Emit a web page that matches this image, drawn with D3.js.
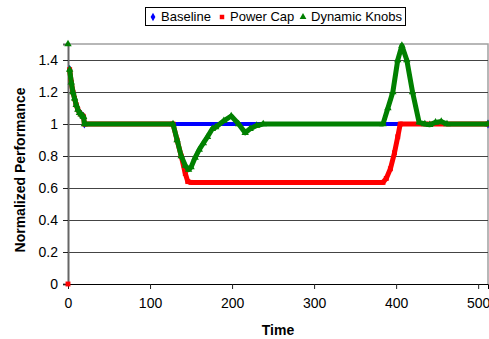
<!DOCTYPE html>
<html>
<head>
<meta charset="utf-8">
<script src="https://cdn.jsdelivr.net/npm/d3@7"></script>
<style>
body { margin: 0; background: #fff; }
text { font-family: "Liberation Sans", Arial, sans-serif; }
</style>
</head>
<body>
<div id="chart"></div>
<script>
// chart values: [time, normalized performance]
const xTicks = [0, 100, 200, 300, 400, 500];
const yTicks = [0, 0.2, 0.4, 0.6, 0.8, 1, 1.2, 1.4];
const seriesNames = ["Baseline", "Power Cap", "Dynamic Knobs"];

const startup = [[2, 1.34], [4, 1.26], [6, 1.2], [8, 1.16], [10, 1.12], [12, 1.09], [14, 1.07], [16, 1.06], [18, 1.05], [19, 1.045], [20, 1.0]];

const baselineFirst = [];
const baseline = startup.concat([[512, 1.0]]);

const powerCapFirst = [[0, 0]];
const powerCap = startup.concat([[128, 1.0], [133, 0.9], [138, 0.8], [143, 0.69], [146, 0.64], [150, 0.635],
  [384, 0.635], [388, 0.66], [393, 0.72], [398, 0.82], [402, 0.92], [405, 1.0], [512, 1.0]]);

const knobsFirst = [[0, 1.5]];
const knobs = startup.concat([[128, 1.0], [133, 0.9], [138, 0.8], [143, 0.74], [147, 0.715], [150, 0.73],
  [155, 0.79], [160, 0.84], [165, 0.88], [170, 0.92], [176, 0.97], [180, 0.98], [190, 1.02], [199, 1.05],
  [208, 1.0], [216, 0.945], [222, 0.97], [230, 0.99], [238, 1.0], [384, 1.0], [390, 1.1], [396, 1.2],
  [402, 1.4], [407, 1.49], [413, 1.4], [420, 1.2], [428, 1.01], [435, 1.0], [441, 0.995], [448, 1.01],
  [455, 1.015], [462, 1.0], [512, 1.0]]);

const width = 489, height = 339;
const margin = {top: 44, right: 1, bottom: 55, left: 68};

let svg = d3.select("#chart").append("svg")
    .attr("width", width)
    .attr("height", height);

let x = d3.scaleLinear().domain([0, 512]).range([margin.left, width - margin.right]);
let y = d3.scaleLinear().domain([0, 1.5]).range([height - margin.bottom, margin.top]);

// frame (top and right, light grey)
svg.append("path")
    .attr("d", "M" + x(0) + "," + y(1.5) + "H" + x(512) + "V" + y(0))
    .attr("fill", "none")
    .attr("stroke", "#a0a0a0")
    .attr("stroke-width", 1.5);

// gridlines
svg.append("g").selectAll("line")
    .data(yTicks.filter(function(d) { return d > 0; }))
    .enter().append("line")
    .attr("x1", x(0)).attr("x2", x(512))
    .attr("y1", function(d) { return Math.round(y(d)) + 0.5; })
    .attr("y2", function(d) { return Math.round(y(d)) + 0.5; })
    .attr("stroke", "#444");

// axes
let yAxis = svg.append("g")
    .attr("transform", "translate(" + x(0) + ",0)")
    .call(d3.axisLeft(y).tickValues(yTicks).tickSize(5).tickPadding(5).tickFormat(d3.format("")));
let xAxis = svg.append("g")
    .attr("transform", "translate(0," + y(0) + ")")
    .call(d3.axisBottom(x).tickValues(xTicks).tickSize(5).tickPadding(9).tickFormat(d3.format("d")));

[yAxis, xAxis].forEach(function(a) {
    a.select(".domain").attr("stroke", "#222");
    a.selectAll(".tick line").attr("stroke", "#222");
    a.selectAll("text").style("font-size", "14px").attr("fill", "#000");
});
yAxis.select(".domain").attr("stroke", "#666").attr("stroke-width", 2);
xAxis.select(".domain").attr("stroke", "#000");

// series
let line = d3.line().x(function(d) { return x(d[0]); }).y(function(d) { return y(d[1]); });

function drawSeries(first, data, color, symbol, lw) {
    svg.append("path")
        .datum(data)
        .attr("d", line)
        .attr("fill", "none")
        .attr("stroke", color)
        .attr("stroke-width", lw)
        .attr("stroke-linejoin", "round");
    svg.append("g").selectAll("path")
        .data(first.concat(data))
        .enter().append("path")
        .attr("transform", function(d) { return "translate(" + x(d[0]) + "," + y(d[1]) + ")"; })
        .attr("d", d3.symbol().type(symbol).size(24))
        .attr("fill", color);
}

drawSeries(baselineFirst, baseline, "#0000ff", d3.symbolDiamond, 4);
drawSeries(powerCapFirst, powerCap, "#ff0000", d3.symbolSquare, 5);
drawSeries(knobsFirst, knobs, "#008000", d3.symbolTriangle, 5);

// axis titles
svg.append("text")
    .attr("x", (x(0) + x(512)) / 2)
    .attr("y", 335)
    .style("text-anchor", "middle")
    .style("font-size", "14px")
    .style("font-weight", "bold")
    .text("Time");

svg.append("text")
    .attr("transform", "translate(25," + (y(0.75) + 6) + ") rotate(-90)")
    .style("text-anchor", "middle")
    .style("font-size", "14px")
    .style("font-weight", "bold")
    .text("Normalized Performance");

// legend
let legend = svg.append("g");
legend.append("rect")
    .attr("x", 145.5).attr("y", 7.5)
    .attr("width", 260).attr("height", 18)
    .attr("fill", "#fff")
    .attr("stroke", "#000");

const legendColors = ["#0000ff", "#ff0000", "#008000"];
const legendSymbols = [d3.symbolDiamond, d3.symbolSquare, d3.symbolTriangle];
const legendX = [153, 222, 303];
seriesNames.forEach(function(name, i) {
    legend.append("path")
        .attr("transform", "translate(" + legendX[i] + ",17)")
        .attr("d", d3.symbol().type(legendSymbols[i]).size(20))
        .attr("fill", legendColors[i]);
    legend.append("text")
        .attr("x", legendX[i] + 8)
        .attr("y", 21)
        .style("font-size", "13px")
        .text(name);
});
</script>
</body>
</html>
